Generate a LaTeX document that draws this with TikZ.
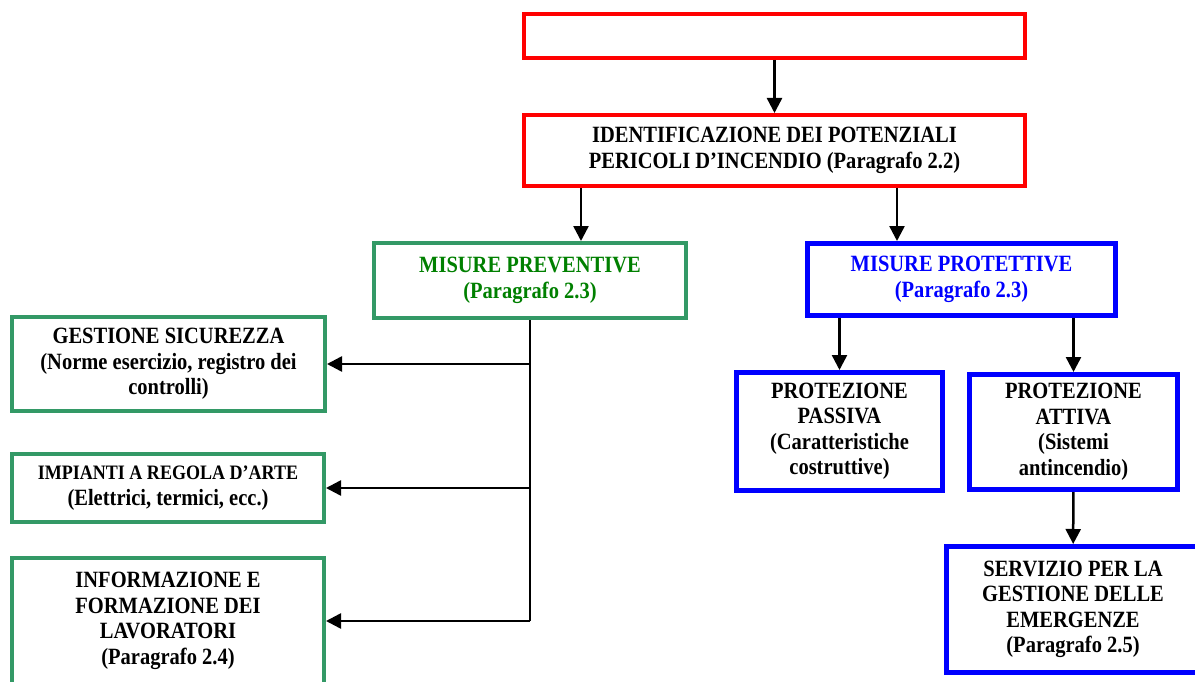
\documentclass[tikz,border=0pt]{standalone}
\usepackage{fontspec}
\setmainfont[FakeStretch=0.88]{Liberation Serif}
\usepackage{xcolor}
\usepackage{tikz}
\usetikzlibrary{arrows.meta}
\definecolor{redline}{HTML}{FF0000}
\definecolor{greenline}{HTML}{339966}
\definecolor{greentext}{HTML}{008000}
\definecolor{blueline}{HTML}{0000FF}
\tikzset{
  box/.style={draw, fill=white, align=center, inner sep=2pt, font=\bfseries\fontsize{23.3}{25.5}\selectfont},
  rbox/.style={box, draw=redline, line width=4pt},
  gbox/.style={box, draw=greenline, line width=4pt},
  blubox/.style={box, draw=blueline, line width=5pt},
  arr/.style={draw=black, line width=2.5pt, -{Triangle[length=15pt,width=15pt]}},
  trunk/.style={draw=black, line width=2.5pt},
}

\begin{document}
\begin{tikzpicture}[x=1pt,y=-1pt]
  \useasboundingbox (0,0) rectangle (1195,682);
  \fill[white] (0,0) rectangle (1195,682);
  \clip (0,0) rectangle (1195,682);

  \node[rbox, minimum width=501pt, minimum height=44pt] (top) at (774.5,36) {};
  \node[rbox, minimum width=501pt, minimum height=71pt] (ident) at (774.5,150.5)
    {IDENTIFICAZIONE DEI POTENZIALI\\PERICOLI D’INCENDIO (Paragrafo 2.2)};

  \node[gbox, text=greentext, minimum width=312pt, minimum height=75pt] (prev) at (530,280.5)
    {MISURE PREVENTIVE\\(Paragrafo 2.3)};
  \node[blubox, text=blueline, minimum width=308pt, minimum height=72pt] (prot) at (961.5,279.5)
    {MISURE PROTETTIVE\\(Paragrafo 2.3)};

  \node[gbox, minimum width=313pt, minimum height=94pt] (ges) at (168.5,364)
    {GESTIONE SICUREZZA\\(Norme esercizio, registro dei\\controlli)};
  \node[gbox, minimum width=312pt, minimum height=68pt] (imp) at (168,488)
    {{\fontsize{20.5}{25.5}\selectfont IMPIANTI A REGOLA D’ARTE}\\(Elettrici, termici, ecc.)};
  \node[gbox, minimum width=312pt, minimum height=126pt] (inf) at (168,621)
    {INFORMAZIONE E\\FORMAZIONE DEI\\LAVORATORI\\(Paragrafo 2.4)};

  \node[blubox, minimum width=206pt, minimum height=118pt] (pas) at (839.5,431.5)
    {PROTEZIONE\\PASSIVA\\(Caratteristiche\\costruttive)};
  \node[blubox, minimum width=208pt, minimum height=115pt] (att) at (1073.5,432)
    {PROTEZIONE\\ATTIVA\\(Sistemi\\antincendio)};
  \node[blubox, minimum width=253pt, minimum height=126pt] (ser) at (1073,609.5)
    {SERVIZIO PER LA\\GESTIONE DELLE\\EMERGENZE\\(Paragrafo 2.5)};

  \coordinate (tl) at (581,0);
  \coordinate (tr) at (897,0);

  \draw[arr] (top) -- (ident);
  \draw[arr] (ident.south -| tl) -- (prev.north -| tl);
  \draw[arr] (ident.south -| tr) -- (prot.north -| tr);
  \draw[trunk] (prev.south) -- (prev.south |- inf.east);
  \foreach \n in {ges,imp,inf}{
    \draw[arr] (prev.south |- \n.east) -- (\n.east);
  }
  \draw[arr] (prot.south -| pas.north) -- (pas.north);
  \draw[arr] (prot.south -| att.north) -- (att.north);
  \draw[arr] (att) -- (ser);
\end{tikzpicture}
\end{document}
